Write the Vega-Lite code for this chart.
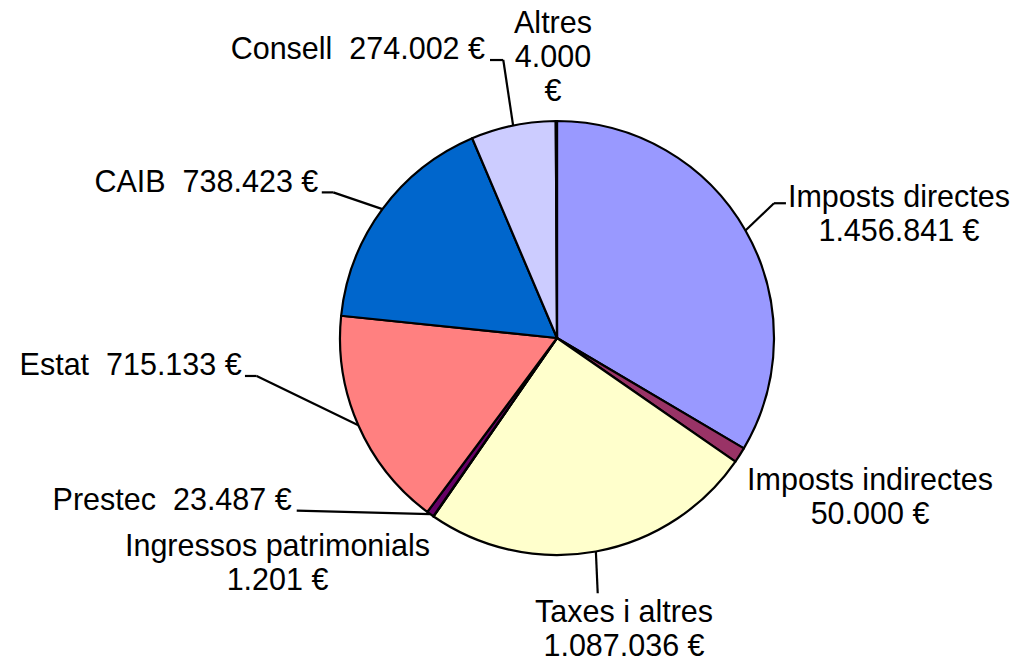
{
  "$schema": "https://vega.github.io/schema/vega-lite/v6.json",
  "width": 800,
  "height": 640,
  "autosize": {"type": "none"},
  "padding": {"left": 157, "right": 59, "top": 18, "bottom": 3},
  "background": "white",
  "config": {"view": {"stroke": null}},
  "data": {
    "values": [
      {"idx": 1, "cat": "Imposts directes", "value": 1456841, "label": "Imposts directes\n1.456.841 €"},
      {"idx": 2, "cat": "Imposts indirectes", "value": 50000, "label": "Imposts indirectes\n50.000 €"},
      {"idx": 3, "cat": "Taxes i altres", "value": 1087036, "label": "Taxes i altres\n1.087.036 €"},
      {"idx": 4, "cat": "Ingressos patrimonials", "value": 1201, "label": "Ingressos patrimonials\n1.201 €"},
      {"idx": 5, "cat": "Prestec", "value": 23487, "label": "Prestec \u00a023.487 €"},
      {"idx": 6, "cat": "Estat", "value": 715133, "label": "Estat \u00a0715.133 €"},
      {"idx": 7, "cat": "CAIB", "value": 738423, "label": "CAIB \u00a0738.423 €"},
      {"idx": 8, "cat": "Consell", "value": 274002, "label": "Consell \u00a0274.002 €"},
      {"idx": 9, "cat": "Altres", "value": 4000, "label": "Altres\n4.000\n€"}
    ]
  },
  "transform": [
    {"window": [{"op": "sum", "field": "value", "as": "cum"}], "sort": [{"field": "idx"}], "frame": [null, 0]},
    {"joinaggregate": [{"op": "sum", "field": "value", "as": "total"}]},
    {"calculate": "(datum.cum - datum.value) / datum.total", "as": "t0"},
    {"calculate": "datum.cum / datum.total", "as": "t1"},
    {"calculate": "(datum.t0 + datum.t1) / 2", "as": "mid"},
    {"calculate": "sin(2 * PI * datum.mid)", "as": "ax"},
    {"calculate": "cos(2 * PI * datum.mid)", "as": "ay"},
    {"calculate": "indexof(['Prestec', 'Estat', 'CAIB', 'Consell'], datum.cat) >= 0", "as": "side"},
    {"calculate": "datum.cat === 'Imposts directes' ? 1.576 : datum.cat === 'Imposts indirectes' ? 1.4424 : datum.cat === 'Taxes i altres' ? 0.3088 : datum.cat === 'Ingressos patrimonials' ? -1.288 : datum.cat === 'Prestec' ? -1.2226 : datum.cat === 'Estat' ? -1.453 : datum.cat === 'CAIB' ? -1.1 : datum.cat === 'Consell' ? -0.3318 : -0.0184", "as": "lx"},
    {"calculate": "datum.cat === 'Imposts directes' ? 0.7157 : datum.cat === 'Imposts indirectes' ? -0.5899 : datum.cat === 'Taxes i altres' ? -1.1968 : datum.cat === 'Ingressos patrimonials' ? -0.894 : datum.cat === 'Prestec' ? -0.7926 : datum.cat === 'Estat' ? -0.1705 : datum.cat === 'CAIB' ? 0.6742 : datum.cat === 'Consell' ? 1.2843 : 1.5147", "as": "ly"},
    {"calculate": "datum.cat === 'Imposts directes' ? 1.0 : datum.cat === 'Taxes i altres' ? 0.1876 : datum.cat === 'Prestec' ? -1.1995 : datum.cat === 'Estat' ? -1.384 : datum.cat === 'CAIB' ? -1.031 : datum.cat === 'Consell' ? -0.2475 : null", "as": "ex"},
    {"calculate": "datum.cat === 'Imposts directes' ? 0.621 : datum.cat === 'Taxes i altres' ? -1.1765 : datum.cat === 'Prestec' ? -0.7959 : datum.cat === 'Estat' ? -0.175 : datum.cat === 'CAIB' ? 0.671 : datum.cat === 'Consell' ? 1.281 : null", "as": "ey"},
    {"calculate": "datum.cat === 'Imposts directes' ? 1.055 : datum.cat === 'Estat' ? -1.438 : datum.cat === 'CAIB' ? -1.084 : datum.cat === 'Consell' ? -0.3088 : null", "as": "hx"}
  ],
  "layer": [
    {
      "mark": {"type": "arc", "outerRadius": 217, "stroke": "black", "strokeWidth": 2.2, "strokeJoin": "round"},
      "encoding": {
        "theta": {"field": "t0", "type": "quantitative", "stack": null, "scale": {"domain": [0, 1]}},
        "theta2": {"field": "t1"},
        "color": {
          "field": "cat",
          "type": "nominal",
          "legend": null,
          "scale": {
            "domain": ["Imposts directes", "Imposts indirectes", "Taxes i altres", "Ingressos patrimonials", "Prestec", "Estat", "CAIB", "Consell", "Altres"],
            "range": ["#9999FF", "#993366", "#FFFFCC", "#CCFFFF", "#660066", "#FF8080", "#0066CC", "#CCCCFF", "#000080"]
          }
        }
      }
    },
    {
      "transform": [{"filter": "datum.ex != null"}],
      "mark": {"type": "rule", "color": "black", "strokeWidth": 2.2},
      "encoding": {
        "x": {"field": "ax", "type": "quantitative", "axis": null, "scale": {"domain": [-1.84332, 1.84332], "nice": false, "zero": false}},
        "y": {"field": "ay", "type": "quantitative", "axis": null, "scale": {"domain": [-1.47465, 1.47465], "nice": false, "zero": false}},
        "x2": {"field": "ex"},
        "y2": {"field": "ey"}
      }
    },
    {
      "transform": [{"filter": "datum.hx != null"}],
      "mark": {"type": "rule", "color": "black", "strokeWidth": 2.2},
      "encoding": {
        "x": {"field": "ex", "type": "quantitative"},
        "y": {"field": "ey", "type": "quantitative"},
        "x2": {"field": "hx"},
        "y2": {"field": "ey"}
      }
    },
    {
      "transform": [{"filter": "!datum.side"}],
      "mark": {"type": "text", "font": "Liberation Sans", "fontSize": 30.5, "lineHeight": 34, "lineBreak": "\n", "align": "center", "baseline": "top", "color": "black"},
      "encoding": {
        "x": {"field": "lx", "type": "quantitative"},
        "y": {"field": "ly", "type": "quantitative"},
        "text": {"field": "label", "type": "nominal"}
      }
    },
    {
      "transform": [{"filter": "datum.side"}],
      "mark": {"type": "text", "font": "Liberation Sans", "fontSize": 30.5, "align": "right", "baseline": "alphabetic", "color": "black"},
      "encoding": {
        "x": {"field": "lx", "type": "quantitative"},
        "y": {"field": "ly", "type": "quantitative"},
        "text": {"field": "label", "type": "nominal"}
      }
    }
  ]
}
